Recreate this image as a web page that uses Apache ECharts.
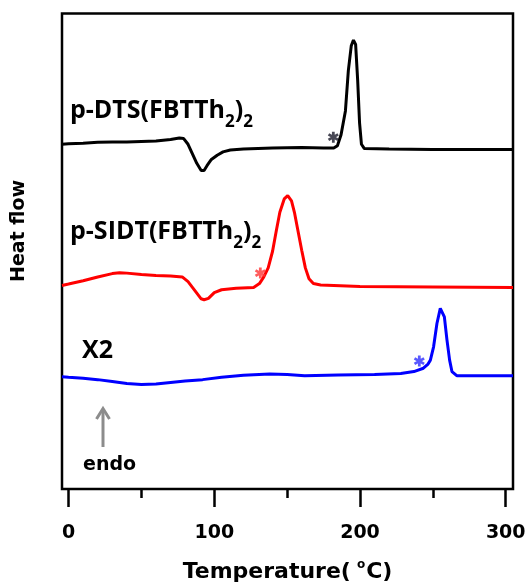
<!DOCTYPE html>
<html><head><meta charset="utf-8">
<script src="https://cdn.jsdelivr.net/npm/echarts@6/dist/echarts.min.js"></script>
<style>html,body{margin:0;padding:0;background:#fff}#c{width:529px;height:584px}</style>
</head><body><div id="c"></div>
<script>
// Temperature axis ticks
const xTicks = [0, 100, 200, 300];
const xMinorTicks = [50, 150, 250];

// Curves: [temperature °C, heat flow (arbitrary, stacked offset)]
const dtsCurve = [[-4.5,72.5],[0,72.6],[10,72.7],[20,72.9],[30,73.0],[40,73.0],[50,73.1],[60,73.2],[70,73.5],[76,73.8],[79,73.7],[82,72.5],[85,70.5],[88,68.5],[91,67.0],[93,67.0],[95,68.0],[98,69.3],[102,70.2],[106,70.9],[111,71.3],[120,71.5],[140,71.7],[160,71.8],[175,71.7],[182,71.7],[184.5,72.2],[187,74.5],[190,79.5],[192,88],[194,93.2],[195.5,94.4],[197,93.5],[198.4,86],[199.7,77],[201,72.5],[203,71.6],[220,71.5],[250,71.4],[280,71.4],[305,71.4]];
const sidtCurve = [[-4.5,42.8],[0,43.1],[10,43.8],[20,44.6],[30,45.3],[35,45.5],[40,45.4],[50,45.1],[60,44.9],[70,44.8],[78,44.6],[82,43.6],[85,42.4],[88,41.2],[91,40.0],[93,39.8],[96,40.1],[100,41.3],[105,41.9],[115,42.2],[127,42.4],[131,43.2],[134,44.6],[137,46.5],[140,50.0],[142.5,54.2],[145,58.2],[148,61.0],[150.4,61.7],[153,60.6],[155,58.2],[157,55.0],[160,50.2],[162.5,46.5],[165,44.2],[168,43.2],[173,42.9],[200,42.6],[250,42.5],[305,42.4]];
const x2Curve = [[-4.5,23.6],[0,23.5],[10,23.3],[20,23.0],[30,22.6],[40,22.2],[50,22.0],[60,22.1],[70,22.4],[80,22.7],[92,23.0],[105,23.5],[120,23.9],[138,24.2],[150,24.1],[162,23.8],[185,24.0],[210,24.1],[228,24.3],[237,24.7],[243.5,25.4],[246.5,26.2],[248.3,27.1],[250.5,29.9],[252.8,34.8],[255.1,38.0],[256.3,38.0],[257.9,36.2],[259.7,31.3],[261.5,27.1],[263.1,24.7],[266.6,23.8],[280,23.8],[305,23.8]];

// Asterisk markers (onset positions)
const starPoints = [[181.7, 74.0], [131.6, 45.4], [240.7, 26.9]];
const starColors = ['#1a1a2a', '#ff3535', '#3030ff'];

const asteriskPath = 'path://M-1.25,-5L1.25,-5L1.25,5L-1.25,5Z' +
  'M3.705,-3.5825L4.955,-1.4175L-3.705,3.5825L-4.955,1.4175Z' +
  'M4.955,1.4175L3.705,3.5825L-4.955,-1.4175L-3.705,-3.5825Z';

const chart = echarts.init(document.getElementById('c'));
const labelRich = {
  m: { fontFamily: 'Open Sans', fontWeight: 'bold', fontSize: 25, color: '#111', lineHeight: 40 },
  s: { fontFamily: 'Open Sans', fontWeight: 'bold', fontSize: 17, color: '#111', lineHeight: 40, padding: [24, 0, 0, 0] }
};
const xBase = { type: 'value', min: -4.5, max: 305, gridIndex: 0, position: 'bottom',
  axisLine: { show: false }, splitLine: { show: false } };

chart.setOption({
  animation: false,
  backgroundColor: '#fff',
  grid: { left: 62, right: 16, top: 13.5, bottom: 95, show: true, outerBoundsMode: 'none', containLabel: false,
    borderColor: '#000', borderWidth: 2.5, backgroundColor: 'transparent' },
  xAxis: [
    Object.assign({}, xBase, {
      axisTick: { show: true, customValues: xTicks, length: 18, inside: false, lineStyle: { color: '#000', width: 2.5 } },
      axisLabel: { show: true, customValues: xTicks, margin: 35, fontFamily: 'DejaVu Sans', fontWeight: 'bold', fontSize: 19, color: '#000' },
      name: '{a|Temperature(}{s|o}{a|C)}', nameLocation: 'middle', nameGap: 68,
      nameTextStyle: { rich: {
        a: { fontFamily: 'DejaVu Sans', fontWeight: 'bold', fontSize: 22, color: '#000', lineHeight: 30 },
        s: { fontFamily: 'DejaVu Sans', fontWeight: 'bold', fontSize: 12, color: '#000', lineHeight: 30, padding: [0, 1, 14, 6] }
      } }
    }),
    Object.assign({}, xBase, {
      axisTick: { show: true, customValues: xMinorTicks, length: 9, lineStyle: { color: '#000', width: 2.5 } },
      axisLabel: { show: false }
    })
  ],
  yAxis: { type: 'value', min: 0, max: 100, show: false },
  series: [
    { type: 'line', data: dtsCurve, showSymbol: false, lineStyle: { color: '#000', width: 3 }, itemStyle: { color: '#000' } },
    { type: 'line', data: sidtCurve, showSymbol: false, lineStyle: { color: '#ff0000', width: 3 }, itemStyle: { color: '#ff0000' } },
    { type: 'line', data: x2Curve, showSymbol: false, lineStyle: { color: '#0000ff', width: 3 }, itemStyle: { color: '#0000ff' } },
    { type: 'scatter', symbol: asteriskPath, symbolSize: 11, z: 5,
      data: starPoints.map((p, i) => ({ value: p, itemStyle: { color: starColors[i] } })) }
  ],
  graphic: [
    { type: 'text', left: 70, top: 90, style: { text: '{m|p-DTS(FBTTh}{s|2}{m|)}{s|2}', rich: labelRich } },
    { type: 'text', left: 70, top: 211, style: { text: '{m|p-SIDT(FBTTh}{s|2}{m|)}{s|2}', rich: labelRich } },
    { type: 'text', left: 82, top: 338, style: { text: '{m|X2}', rich: labelRich } },
    { type: 'text', x: 19.5, y: 231, rotation: Math.PI / 2, style: { text: 'Heat flow', fontFamily: 'DejaVu Sans', fontWeight: 'bold', fontSize: 19, fill: '#000', align: 'center', verticalAlign: 'middle' } },
    { type: 'polyline', shape: { points: [[103, 447], [103, 409]] }, style: { stroke: '#8c8c8c', lineWidth: 3, fill: null } },
    { type: 'polyline', shape: { points: [[96.5, 419], [103, 408.5], [109.5, 419]] }, style: { stroke: '#8c8c8c', lineWidth: 3, fill: null } },
    { type: 'text', x: 109.6, y: 465.5, style: { text: 'endo', fontFamily: 'DejaVu Sans', fontWeight: 'bold', fontSize: 19, fill: '#000', align: 'center', verticalAlign: 'middle' } }
  ]
});
</script>
</body></html>
